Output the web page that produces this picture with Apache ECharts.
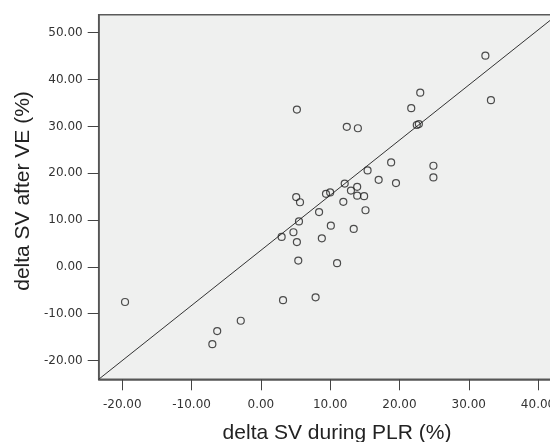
<!DOCTYPE html>
<html>
<head>
<meta charset="utf-8">
<script src="https://cdn.jsdelivr.net/npm/echarts@6/dist/echarts.min.js"></script>
<style>html,body{margin:0;padding:0;background:#fff;}#c{width:550px;height:442px;}</style>
</head>
<body>
<div id="c"></div>
<script>
// delta SV during PLR (%)
const plrValues = [-19.6, -7.0, -6.3, -2.9, 3.2, 7.9, 3.0, 4.7, 5.2, 5.4, 5.5, 8.4, 8.8, 10.1, 11.0,
  5.2, 5.1, 5.65, 9.4, 10.0, 11.9, 12.1, 13.0, 13.9, 13.9, 14.9, 15.1, 13.4, 15.4, 17.0,
  18.8, 19.5, 24.9, 24.9, 12.4, 14.0, 21.7, 23.0, 22.5, 22.8, 32.4, 33.2];
// delta SV after VE (%)
const veValues = [-7.5, -16.5, -13.7, -11.5, -7.1, -6.5, 6.4, 7.4, 5.3, 1.35, 9.7, 11.7, 6.1, 8.8, 0.8,
  33.6, 14.9, 13.8, 15.6, 15.9, 13.9, 17.8, 16.3, 17.1, 15.2, 15.1, 12.1, 8.1, 20.6, 18.6,
  22.3, 17.9, 21.6, 19.1, 29.9, 29.6, 33.9, 37.2, 30.3, 30.5, 45.1, 35.6];
// fit line endpoints
const fitX = [-23.4, 42.9];
const fitY = [-24.0, 54.0];
// tick labels
const xTicks = [-20, -10, 0, 10, 20, 30, 40];
const yTicks = [-20, -10, 0, 10, 20, 30, 40, 50];

const points = plrValues.map((x, i) => [x, veValues[i]]);
const fitLine = fitX.map((x, i) => [x, fitY[i]]);

const chart = echarts.init(document.getElementById('c'), null, {renderer: 'canvas'});
const labelStyle = {color: '#333', fontFamily: 'DejaVu Sans', fontSize: 12, formatter: v => Number(v).toFixed(2)};
chart.setOption({
  animation: false,
  backgroundColor: '#ffffff',
  grid: {left: 98.7, top: 14.7, width: 474, height: 364.6, show: true, containLabel: false,
    outerBoundsMode: 'none',
    backgroundColor: '#eff0ef', borderColor: '#5a5a5a', borderWidth: 1.5},
  xAxis: {
    type: 'value', min: -23.4, max: 45,
    axisLine: {show: true, onZero: false, lineStyle: {color: '#555', width: 1.5}},
    axisTick: {show: true, length: 11, customValues: xTicks, lineStyle: {color: '#444', width: 1}},
    axisLabel: Object.assign({margin: 20, customValues: xTicks}, labelStyle),
    splitLine: {show: false}
  },
  yAxis: {
    type: 'value', min: -24, max: 53.85,
    axisLine: {show: true, onZero: false, lineStyle: {color: '#555', width: 1.5}},
    axisTick: {show: true, length: 11, customValues: yTicks, lineStyle: {color: '#444', width: 1}},
    axisLabel: Object.assign({margin: 16, customValues: yTicks}, labelStyle),
    splitLine: {show: false}
  },
  graphic: [
    {type: 'text', style: {text: 'delta SV during PLR (%)', x: 337, y: 433, align: 'center', verticalAlign: 'middle',
      font: '21px "Liberation Sans", Arial, sans-serif', fill: '#222'}},
    {type: 'text', x: 23, y: 191, rotation: Math.PI / 2, style: {text: 'delta SV after VE (%)', x: 0, y: 0, align: 'center', verticalAlign: 'middle',
      font: '21px "Liberation Sans", Arial, sans-serif', fill: '#222'}}
  ],
  series: [
    {type: 'line', data: fitLine, symbol: 'none', clip: true,
      lineStyle: {color: '#333', width: 1}, silent: true, z: 2},
    {type: 'scatter', data: points, symbol: 'circle', symbolSize: 7,
      itemStyle: {color: 'rgba(0,0,0,0)', borderColor: '#222', borderWidth: 1.2}, z: 3}
  ]
});
</script>
</body>
</html>
